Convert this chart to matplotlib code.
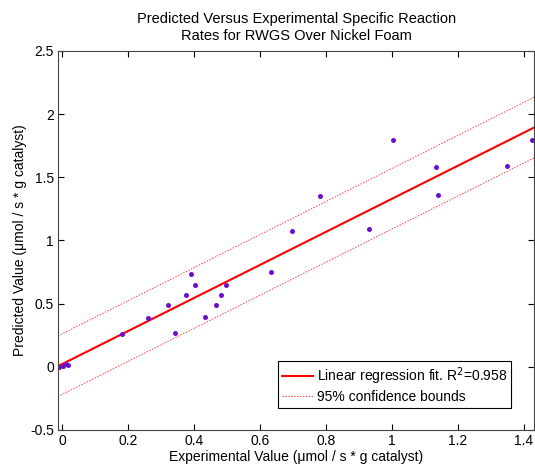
import numpy as np
import matplotlib
matplotlib.use('Agg')
import matplotlib.pyplot as plt

plt.rcParams['font.family'] = ['Liberation Sans', 'DejaVu Sans']

# experimental vs predicted specific reaction rates (umol / s * g catalyst)
experimental = [-0.008, 0.002, 0.012, 0.018, 0.182, 0.262, 0.322, 0.342, 0.375,
                0.392, 0.402, 0.435, 0.467, 0.481, 0.497, 0.635, 0.699, 0.784,
                0.931, 1.004, 1.133, 1.140, 1.349, 1.426]
predicted = [0.0, 0.01, 0.02, 0.015, 0.262, 0.386, 0.487, 0.267, 0.571,
             0.737, 0.645, 0.392, 0.487, 0.571, 0.645, 0.748, 1.077, 1.35,
             1.089, 1.793, 1.584, 1.360, 1.590, 1.793]
r_squared = 0.958
bound_width = 0.24  # half width of 95% bounds

x = np.array(experimental)
y = np.array(predicted)

# linear fit
slope, intercept = np.polyfit(x, y, 1)

xx = np.linspace(x.min() - 0.004, x.max() + 0.006, 50)
fit = slope * xx + intercept

fig = plt.figure(figsize=(5.35, 4.66), dpi=100)
ax = fig.add_axes([0.1084, 0.0773, 0.890, 0.8133])

ax.plot(xx, fit, color='red', lw=1.5, label='Linear regression fit. R$^2$=%.3f' % r_squared)
ax.plot(xx, fit + bound_width, color='#ff4040', lw=0.7, ls=(0, (1.5, 1.5)),
        label='95% confidence bounds')
ax.plot(xx, fit - bound_width, color='#ff4040', lw=0.7, ls=(0, (1.5, 1.5)))
ax.plot(x, y, 'o', color='#6a0fd0', ms=3.6, mec='none')

ax.set_xlim(xx.min(), xx.max())
ax.set_ylim(-0.5, 2.5)
ax.set_xticks(np.arange(0, 1.41, 0.2))
ax.set_xticklabels(['0', '0.2', '0.4', '0.6', '0.8', '1', '1.2', '1.4'])
ax.set_yticks(np.arange(-0.5, 2.51, 0.5))
ax.set_yticklabels(['-0.5', '0', '0.5', '1', '1.5', '2', '2.5'])
ax.tick_params(direction='in', top=True, right=True, labelsize=10, length=4, pad=3)
for sp in ax.spines.values():
    sp.set_color('#444444')

ax.set_xlabel('Experimental Value (μmol / s * g catalyst)', fontsize=10, labelpad=1)
ax.set_ylabel('Predicted Value (μmol / s * g catalyst)', fontsize=10, labelpad=2)
ax.set_title('Predicted Versus Experimental Specific Reaction\nRates for RWGS Over Nickel Foam',
             fontsize=10.5, pad=8, linespacing=1.3)

leg = ax.legend(loc='lower right', fontsize=10, fancybox=False, framealpha=1,
                edgecolor='black', bbox_to_anchor=(0.967, 0.04), handlelength=2.2,
                borderpad=0.3, labelspacing=0.2, handletextpad=0.3)
leg.get_frame().set_linewidth(0.8)

plt.savefig('out.png', dpi=100)
